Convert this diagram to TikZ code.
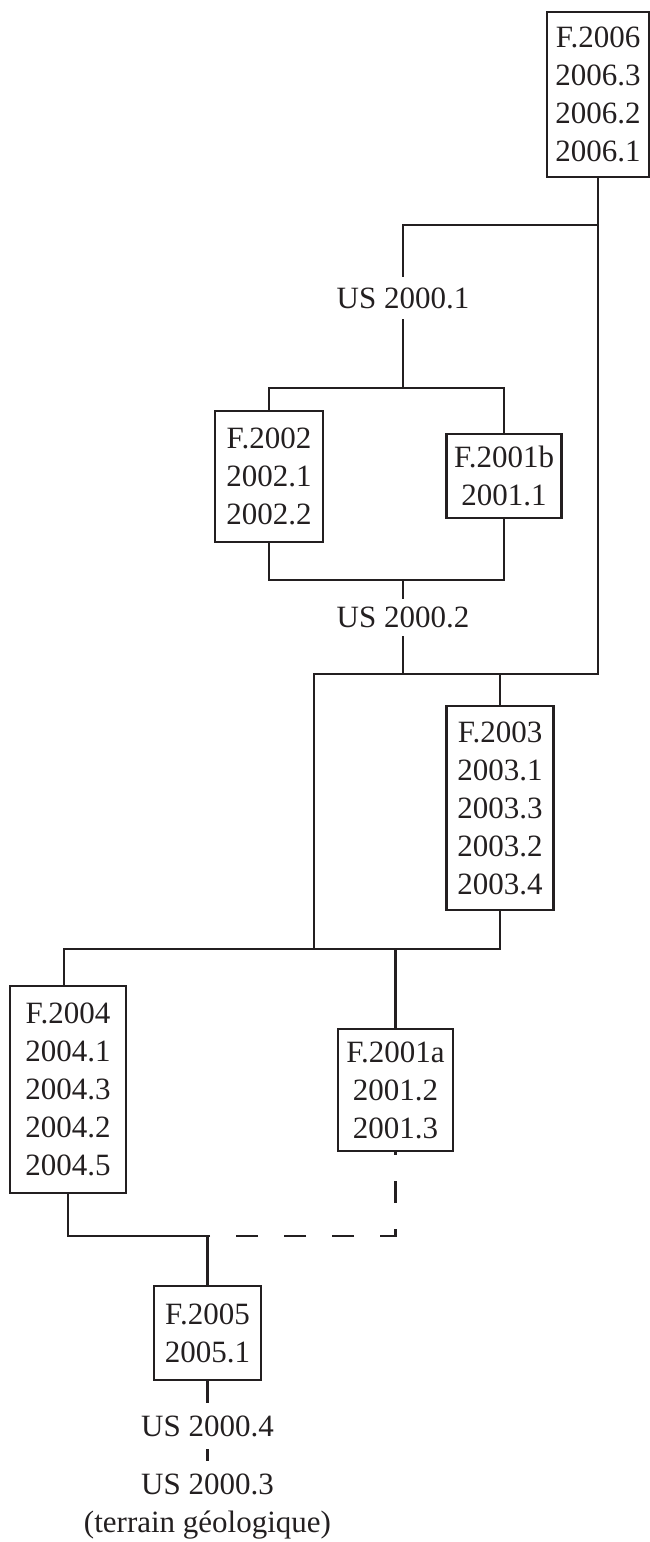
\documentclass[tikz,border=0pt]{standalone}
\usepackage{fontspec}
\setmainfont{Liberation Serif}
\definecolor{ink}{RGB}{35,31,32}
\begin{document}
\begin{tikzpicture}[x=1pt,y=-1pt,
  conn/.style={draw=ink, line width=2.5pt},
  dashconn/.style={conn, dash pattern=on 22pt off 26pt, dash phase=19pt},
  fbox/.style={draw=ink, line width=2.6pt, text=ink, align=center,
    font=\fontsize{31}{38}\selectfont, inner sep=0pt},
  lab/.style={text=ink, align=center, font=\fontsize{31}{38}\selectfont, inner xsep=0pt}]
\useasboundingbox (0,0) rectangle (650,1542);

% nodes
\node[fbox, minimum width=102pt, minimum height=165pt] (f2006) at (598,94.5) {F.2006\\2006.3\\2006.2\\2006.1};
\node[lab, inner ysep=10.5pt] (us1) at (403,298) {US 2000.1};
\node[fbox, minimum width=108pt, minimum height=131pt] (f2002) at (269,476.5) {F.2002\\2002.1\\2002.2};
\node[fbox, minimum width=115pt, minimum height=84pt] (f2001b) at (504,476) {F.2001b\\2001.1};
\node[lab, inner ysep=8pt] (us2) at (403,617.5) {US 2000.2};
\node[fbox, minimum width=107pt, minimum height=204pt] (f2003) at (500,808) {F.2003\\2003.1\\2003.3\\2003.2\\2003.4};
\node[fbox, minimum width=116pt, minimum height=207pt] (f2004) at (68,1089.5) {F.2004\\2004.1\\2004.3\\2004.2\\2004.5};
\node[fbox, minimum width=115pt, minimum height=122pt] (f2001a) at (395.5,1090) {F.2001a\\2001.2\\2001.3};
\node[fbox, minimum width=107pt, minimum height=94pt] (f2005) at (207.5,1333) {F.2005\\2005.1};
\node[lab, inner ysep=12.5pt] (us4) at (207.5,1426) {US 2000.4};
\node[lab, inner ysep=12.5pt, anchor=north] (us3) at (207.5,1461) {US 2000.3\\(terrain géologique)};

% junction coordinates
\coordinate (rTop) at (598,225);
\coordinate (rBot) at (598,674);
\coordinate (aTop) at (403,225);
\coordinate (bL) at (269,388);
\coordinate (bM) at (403,388);
\coordinate (bR) at (504,388);
\coordinate (cL) at (269,580);
\coordinate (cM) at (403,580);
\coordinate (cR) at (504,580);
\coordinate (dL) at (314,674);
\coordinate (dM) at (403,674);
\coordinate (dR) at (500,674);
\coordinate (eL) at (64,949);
\coordinate (eM) at (314,949);
\coordinate (eA) at (395.5,949);
\coordinate (eR) at (500,949);
\coordinate (gL) at (68,1236);
\coordinate (gM) at (207.5,1236);
\coordinate (gR) at (395.5,1236);

% connectors
\draw[conn] (f2006.south) -- (rBot) -- (dL) -- (eM);
\draw[conn] (rTop) -- (aTop) -- (us1.north);
\draw[conn] (us1.south) -- (bM);
\draw[conn] (f2002.north) -- (bL) -- (bR) -- (f2001b.north);
\draw[conn] (f2002.south) -- (cL) -- (cR) -- (f2001b.south);
\draw[conn] (cM) -- (us2.north);
\draw[conn] (us2.south) -- (dM);
\draw[conn] (dR) -- (f2003.north);
\draw[conn] (f2003.south) -- (eR) -- (eL) -- (eL |- f2004.north);
\draw[conn] (eA) -- (f2001a.north);
\draw[conn] (f2004.south) -- (gL) -- (gM) -- (f2005.north);
\draw[dashconn] (f2001a.south) -- (gR) -- (gM);
\draw[conn] (f2005.south) -- (us4.north);
\draw[conn] (us4.south) -- (us3.north);
\end{tikzpicture}
\end{document}
